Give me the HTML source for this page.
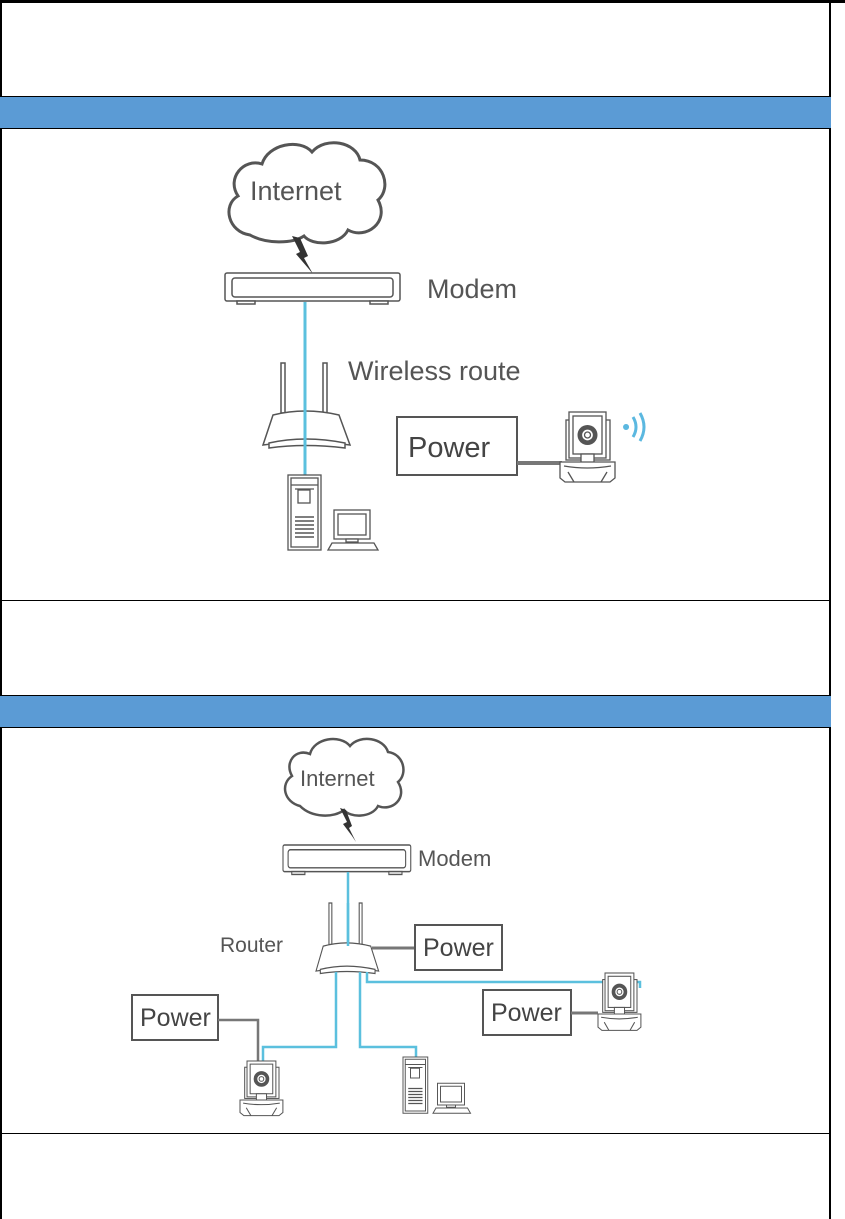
<!DOCTYPE html>
<html><head><meta charset="utf-8"><style>
html,body{margin:0;padding:0;background:#fff;width:845px;height:1219px;overflow:hidden;}
.a{position:absolute;}
svg text{font-family:"Liberation Sans", Arial, sans-serif;}
</style></head><body>
<div class="a" style="left:0;top:0;width:845px;height:3px;background:#000"></div>
<div class="a" style="left:0;top:0;width:2px;height:1219px;background:#000"></div>
<div class="a" style="left:829px;top:0;width:2px;height:1219px;background:#000"></div>
<div class="a" style="left:0;top:96px;width:831px;height:33px;background:#5b9bd5;border-top:1px solid #000;border-bottom:1px solid #000;box-sizing:border-box"></div>
<div class="a" style="left:0;top:600px;width:831px;height:1px;background:#000"></div>
<div class="a" style="left:0;top:695px;width:831px;height:33px;background:#5b9bd5;border-top:1px solid #000;border-bottom:1px solid #000;box-sizing:border-box"></div>
<div class="a" style="left:0;top:1133px;width:831px;height:1px;background:#000"></div>
<svg class="a" style="left:0;top:0;font-family:'Liberation Sans',sans-serif" width="845" height="1219" viewBox="0 0 845 1219">
<defs>
<g id="cam" fill="#fff" stroke="#555" stroke-width="1.3">
  <rect x="6" y="8" width="44" height="40"/>
  <rect x="9" y="0" width="37" height="46"/>
  <rect x="13" y="4" width="29" height="38"/>
  <circle cx="27.5" cy="23" r="10" fill="#555" stroke="none"/>
  <circle cx="27.5" cy="23" r="6" fill="#fff" stroke="#555"/>
  <circle cx="27.5" cy="23" r="3" fill="#fff" stroke="#555"/>
  <rect x="21" y="42" width="13" height="10"/>
  <path d="M0 50 H55 V66 L50 70 H5 L0 66 Z"/>
  <path d="M4 54 Q27 58 51 54"/>
  <path d="M8 60 L14 70 M47 60 L41 70"/>
</g>
<g id="pc" fill="#fff" stroke="#555" stroke-width="1.3">
  <rect x="0" y="0" width="33" height="75"/>
  <rect x="3" y="3" width="27" height="69"/>
  <path d="M3 10 H30"/>
  <rect x="10" y="15" width="12" height="13"/>
  <path d="M7 14 H26"/>
  <g stroke-width="1.6"><path d="M7 42 H26 M7 46 H26 M7 50 H26 M7 54 H26 M7 58 H26 M7 62 H26"/></g>
  <rect x="46" y="35" width="36" height="29"/>
  <rect x="50" y="39" width="28" height="21"/>
  <rect x="58" y="64" width="12" height="3"/>
  <path d="M40 75 L44 68 H86 L90 75 Z"/>
</g>
<g id="modem" fill="#fff" stroke="#555" stroke-width="1.5">
  <rect x="0" y="0" width="175" height="28" rx="2"/>
  <rect x="7" y="5" width="161" height="19" rx="3"/>
  <rect x="12" y="28" width="18" height="3"/>
  <rect x="145" y="28" width="18" height="3"/>
</g>
<g id="router" fill="#fff" stroke="#555" stroke-width="1.5">
  <rect x="18" y="0" width="4" height="50"/>
  <rect x="60" y="0" width="4" height="50"/>
  <path d="M10 52 Q42 44 76 52 L87 82 Q42 76 0 82 Z"/>
  <path d="M6 80 Q42 72 82 80 L82 85 Q42 80 6 85 Z"/>
</g>
</defs>

<!-- Diagram 1 -->
<path d="M250 235 C228 232 222 205 238 196 C226 178 244 158 262 164 C268 144 300 138 312 152 C326 136 356 142 360 160 C384 160 392 188 378 200 C390 222 366 240 348 230 C340 246 312 246 304 236 C292 244 266 244 250 235 Z" fill="#fff" stroke="#555" stroke-width="3"/>
<text x="250" y="200" font-size="27" fill="#555">Internet</text>
<path d="M292 236 L300 252 L296 254 L308 268 L313 274 L304 258 L308 256 L300 238 Z" fill="#333"/>
<line x1="305" y1="302" x2="305" y2="482" stroke="#5bc0de" stroke-width="3"/>
<use href="#modem" x="225" y="273"/>
<text x="427" y="298" font-size="27" fill="#555">Modem</text>
<text x="348" y="380" font-size="27" fill="#555">Wireless route</text>
<use href="#router" x="263" y="363"/>
<line x1="305" y1="363" x2="305" y2="482" stroke="#5bc0de" stroke-width="3"/>
<rect x="397" y="417" width="120" height="58" fill="#fff" stroke="#555" stroke-width="2"/>
<text x="408" y="457" font-size="29" fill="#444">Power</text>
<line x1="517" y1="463" x2="562" y2="463" stroke="#777" stroke-width="4"/>
<use href="#cam" x="560" y="412"/>
<path d="M626 424 a3 3 0 1 0 0.1 0 Z" fill="#5bb8e0"/>
<path d="M633 417 Q639 427 633 437" fill="none" stroke="#5bb8e0" stroke-width="3"/>
<path d="M640 413 Q648 427 640 441" fill="none" stroke="#5bb8e0" stroke-width="3"/>
<use href="#pc" x="288" y="475"/>

<!-- Diagram 2 -->
<path d="M300 806 C284 802 280 784 292 776 C284 762 296 748 310 754 C314 738 340 734 350 746 C360 734 384 738 388 752 C404 754 408 774 398 782 C408 798 392 812 378 806 C372 818 350 818 344 810 C334 818 312 818 300 806 Z" fill="#fff" stroke="#555" stroke-width="2.5"/>
<text x="300" y="786" font-size="22" fill="#555">Internet</text>
<path d="M340 808 L347 822 L343 824 L352 836 L356 842 L349 828 L352 826 L346 810 Z" fill="#333"/>
<g transform="translate(283,845) scale(0.73,0.95)"><use href="#modem"/></g>
<text x="418" y="866" font-size="22" fill="#555">Modem</text>
<line x1="348" y1="872" x2="348" y2="946" stroke="#5bc0de" stroke-width="2.5"/>
<g transform="translate(316,903) scale(0.72,0.83)"><use href="#router"/></g>
<line x1="348" y1="903" x2="348" y2="946" stroke="#5bc0de" stroke-width="2.5"/>
<text x="220" y="952" font-size="21" fill="#555">Router</text>
<line x1="372" y1="948" x2="415" y2="948" stroke="#777" stroke-width="3"/>
<rect x="415" y="925" width="87" height="45" fill="#fff" stroke="#555" stroke-width="2"/>
<text x="423" y="956" font-size="25" fill="#444">Power</text>
<polyline points="367,972 367,982 640,982 640,988" fill="none" stroke="#5bc0de" stroke-width="2.5"/>
<polyline points="336,972 336,1047 263,1047 263,1065" fill="none" stroke="#5bc0de" stroke-width="2.5"/>
<polyline points="360,972 360,1047 416,1047 416,1058" fill="none" stroke="#5bc0de" stroke-width="2.5"/>
<rect x="483" y="990" width="88" height="45" fill="#fff" stroke="#555" stroke-width="2"/>
<text x="491" y="1021" font-size="25" fill="#444">Power</text>
<line x1="571" y1="1013" x2="598" y2="1013" stroke="#777" stroke-width="3"/>
<g transform="translate(598,973) scale(0.78,0.82)"><use href="#cam"/></g>
<rect x="132" y="995" width="86" height="45" fill="#fff" stroke="#555" stroke-width="2"/>
<text x="140" y="1026" font-size="25" fill="#444">Power</text>
<polyline points="218,1020 258,1020 258,1065" fill="none" stroke="#777" stroke-width="2.5"/>
<g transform="translate(240,1061) scale(0.78,0.78)"><use href="#cam"/></g>
<g transform="translate(403,1057) scale(0.75,0.75)"><use href="#pc"/></g>
</svg>
</body></html>
